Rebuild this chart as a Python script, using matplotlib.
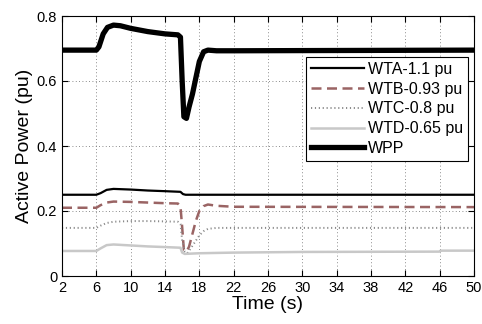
import matplotlib.pyplot as plt
import numpy as np

# time points (s) and active power (pu)
t_wpp = [2, 6.0, 6.3, 6.8, 7.3, 8.0, 8.8, 10, 12, 14, 15.5, 15.8, 16.0, 16.2, 16.5, 16.8, 17.2, 17.6, 18.0, 18.5, 19.0, 20, 22, 50]
p_wpp = [0.695, 0.695, 0.705, 0.745, 0.765, 0.772, 0.770, 0.762, 0.752, 0.745, 0.742, 0.735, 0.60, 0.49, 0.485, 0.52, 0.56, 0.61, 0.66, 0.69, 0.695, 0.693, 0.693, 0.695]

t_wta = [2, 6.0, 6.5, 7.2, 8.0, 10, 12, 14, 15.8, 16.1, 16.4, 50]
p_wta = [0.25, 0.25, 0.255, 0.265, 0.268, 0.266, 0.263, 0.261, 0.259, 0.252, 0.25, 0.25]

t_wtb = [2, 6.0, 6.5, 7.2, 8.0, 10, 12, 14, 15.5, 15.8, 16.0, 16.2, 16.5, 16.8, 17.2, 17.6, 18.0, 18.5, 19.0, 20, 22, 50]
p_wtb = [0.21, 0.21, 0.218, 0.226, 0.229, 0.228, 0.226, 0.224, 0.223, 0.215, 0.15, 0.08, 0.075, 0.09, 0.13, 0.17, 0.2, 0.215, 0.22, 0.216, 0.213, 0.212]

t_wtc = [2, 6.0, 6.5, 7.2, 8.0, 10, 12, 14, 15.5, 15.8, 16.0, 16.3, 16.6, 17.0, 17.5, 18.0, 18.5, 19.0, 20, 22, 50]
p_wtc = [0.148, 0.148, 0.155, 0.163, 0.167, 0.169, 0.169, 0.168, 0.167, 0.16, 0.11, 0.075, 0.07, 0.085, 0.105, 0.125, 0.138, 0.145, 0.148, 0.148, 0.148]

t_wtd = [2, 6.0, 6.5, 7.2, 8.0, 10, 12, 14, 15.8, 16.0, 16.3, 18, 22, 30, 46, 46.1, 50]
p_wtd = [0.077, 0.077, 0.085, 0.095, 0.097, 0.094, 0.091, 0.089, 0.087, 0.072, 0.068, 0.07, 0.072, 0.074, 0.075, 0.078, 0.078]

labels = ['WTA-1.1 pu', 'WTB-0.93 pu', 'WTC-0.8 pu', 'WTD-0.65 pu', 'WPP']
xticks = np.arange(2, 51, 4)
yticks = [0, 0.2, 0.4, 0.6, 0.8]

plt.rcParams['font.family'] = ['Liberation Sans', 'DejaVu Sans']

fig = plt.figure(figsize=(4.82, 3.24), dpi=100)
ax = fig.add_axes([62 / 482, 48 / 324, 412 / 482, 260 / 324])

ax.plot(t_wta, p_wta, color='black', lw=1.6, label=labels[0])
ax.plot(t_wtb, p_wtb, color='#9a6464', lw=1.8, ls=(0, (4, 2.2)), label=labels[1])
ax.plot(t_wtc, p_wtc, color='#8a8a8a', lw=1.4, ls=(0, (0.6, 1.4)), label=labels[2])
ax.plot(t_wtd, p_wtd, color='#c8c8c8', lw=1.8, label=labels[3])
ax.plot(t_wpp, p_wpp, color='black', lw=3.8, label=labels[4])

ax.set_xlim(2, 50)
ax.set_ylim(0, 0.8)
ax.set_xticks(xticks)
ax.set_yticks(yticks)
ax.set_yticklabels(['0', '0.2', '0.4', '0.6', '0.8'])
ax.grid(True, color='#666666', ls=(0, (1, 3)), lw=0.6)
ax.tick_params(direction='in', top=True, right=True, labelsize=10.5, length=4)
ax.set_xlabel('Time (s)', fontsize=14, labelpad=1)
ax.set_ylabel('Active Power (pu)', fontsize=14, labelpad=3)

leg = ax.legend(loc='upper right', bbox_to_anchor=(0.985, 0.842), fontsize=11.5,
                frameon=True, fancybox=False, edgecolor='black', framealpha=1,
                handlelength=3.3, borderpad=0.3, labelspacing=0.3, handletextpad=0.25,
                borderaxespad=0)
leg.get_frame().set_linewidth(0.8)

fig.savefig('out.png', dpi=100)
